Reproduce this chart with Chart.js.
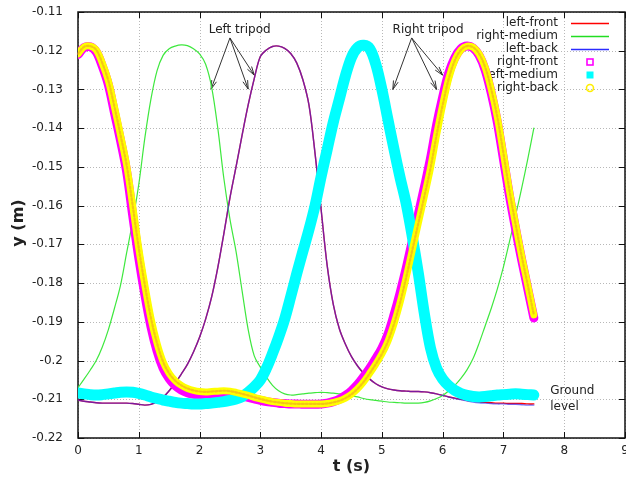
<!DOCTYPE html>
<html>
<head>
<meta charset="utf-8">
<script src="https://cdn.jsdelivr.net/npm/chart.js@4.4.1/dist/chart.umd.min.js"></script>
<style>
html, body { margin: 0; padding: 0; background: #fff; }
#wrap { width: 626px; height: 483px; position: relative; }
</style>
</head>
<body>
<div id="wrap"><canvas id="legChart"></canvas></div>
<script>
// Time samples (s)
const timeS = [0.0, 0.1, 0.2, 0.3, 0.4, 0.5, 0.6, 0.7, 0.8, 0.9,
	1.0, 1.1, 1.2, 1.3, 1.4, 1.5, 1.6, 1.7, 1.8, 1.9,
	2.0, 2.1, 2.2, 2.3, 2.4, 2.5, 2.6, 2.7, 2.8, 2.9,
	3.0, 3.1, 3.2, 3.3, 3.4, 3.5, 3.6, 3.7, 3.8, 3.9,
	4.0, 4.1, 4.2, 4.3, 4.4, 4.5, 4.6, 4.7, 4.8, 4.9,
	5.0, 5.1, 5.2, 5.3, 5.4, 5.5, 5.6, 5.7, 5.8, 5.9,
	6.0, 6.1, 6.2, 6.3, 6.4, 6.5, 6.6, 6.7, 6.8, 6.9,
	7.0, 7.1, 7.2, 7.3, 7.4, 7.5];

// Foot heights y (m)
const leftFront = [-0.2102, -0.2105, -0.2107, -0.2109, -0.2110, -0.2110, -0.2110, -0.2110, -0.2110, -0.2111,
	-0.2113, -0.2115, -0.2113, -0.2106, -0.2095, -0.2078, -0.2058, -0.2035, -0.2010, -0.1978,
	-0.1940, -0.1893, -0.1835, -0.1760, -0.1672, -0.1580, -0.1500, -0.1418, -0.1340, -0.1272,
	-0.1215, -0.1198, -0.1189, -0.1188, -0.1194, -0.1207, -0.1232, -0.1275, -0.1340, -0.1465,
	-0.1610, -0.1755, -0.1855, -0.1918, -0.1958, -0.1990, -0.2014, -0.2033, -0.2048, -0.2060,
	-0.2068, -0.2073, -0.2076, -0.2078, -0.2079, -0.2080, -0.2080, -0.2081, -0.2083, -0.2086,
	-0.2090, -0.2094, -0.2097, -0.2100, -0.2103, -0.2105, -0.2107, -0.2108, -0.2109, -0.2110,
	-0.2110, -0.2111, -0.2111, -0.2111, -0.2112, -0.2112];

const rightMedium = [-0.2070, -0.2048, -0.2025, -0.2000, -0.1965, -0.1920, -0.1865, -0.1805, -0.1722, -0.1640,
	-0.1545, -0.1425, -0.1325, -0.1252, -0.1212, -0.1195, -0.1188, -0.1185, -0.1187, -0.1195,
	-0.1208, -0.1235, -0.1295, -0.1400, -0.1530, -0.1635, -0.1718, -0.1820, -0.1920, -0.1988,
	-0.2017, -0.2043, -0.2064, -0.2078, -0.2086, -0.2089, -0.2088, -0.2086, -0.2084, -0.2083,
	-0.2082, -0.2083, -0.2084, -0.2086, -0.2088, -0.2091, -0.2094, -0.2098, -0.2101, -0.2103,
	-0.2105, -0.2107, -0.2108, -0.2109, -0.2110, -0.2110, -0.2110, -0.2108, -0.2104, -0.2098,
	-0.2090, -0.2078, -0.2064, -0.2046, -0.2024, -0.1995, -0.1955, -0.1910, -0.1865, -0.1815,
	-0.1758, -0.1692, -0.1625, -0.1555, -0.1480, -0.1400];

const leftBack = [-0.2102, -0.2105, -0.2107, -0.2109, -0.2110, -0.2110, -0.2110, -0.2110, -0.2110, -0.2111,
	-0.2113, -0.2115, -0.2113, -0.2106, -0.2095, -0.2078, -0.2058, -0.2035, -0.2010, -0.1978,
	-0.1940, -0.1893, -0.1835, -0.1760, -0.1672, -0.1580, -0.1500, -0.1418, -0.1340, -0.1272,
	-0.1215, -0.1198, -0.1189, -0.1188, -0.1194, -0.1207, -0.1232, -0.1275, -0.1340, -0.1465,
	-0.1610, -0.1755, -0.1855, -0.1918, -0.1958, -0.1990, -0.2014, -0.2033, -0.2048, -0.2060,
	-0.2068, -0.2073, -0.2076, -0.2078, -0.2079, -0.2080, -0.2080, -0.2081, -0.2083, -0.2086,
	-0.2090, -0.2094, -0.2098, -0.2101, -0.2104, -0.2107, -0.2109, -0.2110, -0.2111, -0.2112,
	-0.2112, -0.2113, -0.2113, -0.2114, -0.2115, -0.2115];

const rightFront = [-0.1210, -0.1192, -0.1190, -0.1203, -0.1240, -0.1288, -0.1360, -0.1432, -0.1512, -0.1625,
	-0.1735, -0.1830, -0.1912, -0.1975, -0.2020, -0.2047, -0.2065, -0.2076, -0.2083, -0.2087,
	-0.2089, -0.2089, -0.2088, -0.2087, -0.2086, -0.2086, -0.2088, -0.2091, -0.2095, -0.2099,
	-0.2103, -0.2106, -0.2108, -0.2110, -0.2111, -0.2112, -0.2112, -0.2113, -0.2113, -0.2113,
	-0.2112, -0.2110, -0.2106, -0.2100, -0.2090, -0.2078, -0.2062, -0.2042, -0.2020, -0.1995,
	-0.1968, -0.1932, -0.1882, -0.1825, -0.1762, -0.1692, -0.1622, -0.1552, -0.1478, -0.1392,
	-0.1320, -0.1258, -0.1218, -0.1195, -0.1188, -0.1193, -0.1212, -0.1250, -0.1310, -0.1385,
	-0.1480, -0.1575, -0.1660, -0.1740, -0.1815, -0.1890];

const leftMedium = [-0.2084, -0.2086, -0.2088, -0.2089, -0.2088, -0.2086, -0.2084, -0.2082, -0.2081, -0.2082,
	-0.2085, -0.2089, -0.2094, -0.2098, -0.2102, -0.2105, -0.2108, -0.2110, -0.2111, -0.2112,
	-0.2112, -0.2111, -0.2110, -0.2108, -0.2106, -0.2103, -0.2099, -0.2093, -0.2082, -0.2068,
	-0.2050, -0.2020, -0.1982, -0.1940, -0.1893, -0.1835, -0.1775, -0.1718, -0.1662, -0.1600,
	-0.1525, -0.1455, -0.1385, -0.1325, -0.1265, -0.1217, -0.1192, -0.1186, -0.1195, -0.1235,
	-0.1300, -0.1378, -0.1455, -0.1528, -0.1595, -0.1680, -0.1775, -0.1880, -0.1968, -0.2020,
	-0.2048, -0.2065, -0.2077, -0.2085, -0.2090, -0.2093, -0.2094, -0.2093, -0.2091, -0.2089,
	-0.2088, -0.2087, -0.2086, -0.2087, -0.2088, -0.2089];

const rightBack = [-0.1208, -0.1190, -0.1188, -0.1198, -0.1232, -0.1278, -0.1345, -0.1418, -0.1495, -0.1600,
	-0.1710, -0.1805, -0.1890, -0.1955, -0.2003, -0.2033, -0.2052, -0.2064, -0.2072, -0.2077,
	-0.2080, -0.2081, -0.2080, -0.2079, -0.2078, -0.2079, -0.2082, -0.2086, -0.2090, -0.2095,
	-0.2099, -0.2103, -0.2106, -0.2108, -0.2110, -0.2111, -0.2112, -0.2112, -0.2112, -0.2112,
	-0.2112, -0.2111, -0.2108, -0.2104, -0.2097, -0.2087, -0.2073, -0.2055, -0.2033, -0.2009,
	-0.1983, -0.1950, -0.1905, -0.1850, -0.1785, -0.1715, -0.1645, -0.1575, -0.1503, -0.1418,
	-0.1340, -0.1272, -0.1225, -0.1198, -0.1188, -0.1191, -0.1208, -0.1243, -0.1300, -0.1372,
	-0.1465, -0.1562, -0.1648, -0.1730, -0.1805, -0.1882];

// Tick labels
const xTicks = [0, 1, 2, 3, 4, 5, 6, 7, 8, 9];
const yTicks = [-0.22, -0.21, -0.2, -0.19, -0.18, -0.17, -0.16, -0.15, -0.14, -0.13, -0.12, -0.11];

// Annotations, in data units: label position, then arrow tips
const leftTripod = { text: 'Left tripod', x: 2.66, y: -0.1146, from: [2.5, -0.1167],
	tips: [[2.19, -0.1299], [2.8, -0.1299], [2.9, -0.1263]] };
const rightTripod = { text: 'Right tripod', x: 5.76, y: -0.1146, from: [5.49, -0.1167],
	tips: [[5.18, -0.1300], [5.9, -0.1300], [6.0, -0.1263]] };
const groundLabel = { lines: ['Ground', 'level'], x: 7.77, y: [-0.2079, -0.2120] };

const textColor = '#222';
const fontFamily = '"DejaVu Sans", "Liberation Sans", sans-serif';

function toPoints(values) {
	return timeS.map(function(t, i) { return { x: t, y: values[i] }; });
}

// Legend entries drawn gnuplot style: label right-aligned, sample on its right
function drawKey(chart) {
	const ctx = chart.ctx;
	const textRight = 558;
	const sampleLeft = 571;
	const sampleRight = 609;
	const rowTop = 23;
	const rowStep = 13;
	const entries = chart.data.datasets;

	ctx.save();
	ctx.font = '12px ' + fontFamily;
	ctx.textAlign = 'right';
	ctx.textBaseline = 'middle';
	for(let i = 0; i < entries.length; i++) {
		const ds = entries[i];
		const yy = rowTop + rowStep * i;
		ctx.fillStyle = textColor;
		ctx.fillText(ds.label, textRight, yy);

		const cx = (sampleLeft + sampleRight) / 2;
		if(ds.keyStyle === 'line') {
			ctx.strokeStyle = ds.keyColor;
			ctx.lineWidth = 1.3;
			ctx.beginPath();
			ctx.moveTo(sampleLeft, yy + 0.5);
			ctx.lineTo(sampleRight, yy + 0.5);
			ctx.stroke();
		} else if(ds.keyStyle === 'openSquare') {
			ctx.strokeStyle = ds.keyColor;
			ctx.lineWidth = 1.6;
			ctx.strokeRect(cx - 3, yy - 3, 6, 6);
		} else if(ds.keyStyle === 'filledSquare') {
			ctx.fillStyle = ds.keyColor;
			ctx.fillRect(cx - 3.5, yy - 3.5, 7, 7);
		} else if(ds.keyStyle === 'openCircle') {
			ctx.strokeStyle = ds.keyColor;
			ctx.lineWidth = 1.6;
			ctx.beginPath();
			ctx.arc(cx, yy, 3.5, 0, Math.PI * 2);
			ctx.stroke();
		}
	}
	ctx.restore();
}

function drawArrow(ctx, x0, y0, x1, y1) {
	const ang = Math.atan2(y1 - y0, x1 - x0);
	const head = 9;
	const spread = 0.28;
	ctx.beginPath();
	ctx.moveTo(x0, y0);
	ctx.lineTo(x1, y1);
	ctx.moveTo(x1 - head * Math.cos(ang - spread), y1 - head * Math.sin(ang - spread));
	ctx.lineTo(x1, y1);
	ctx.lineTo(x1 - head * Math.cos(ang + spread), y1 - head * Math.sin(ang + spread));
	ctx.stroke();
}

function drawNotes(chart) {
	const ctx = chart.ctx;
	const xs = chart.scales.x;
	const ys = chart.scales.y;

	ctx.save();
	ctx.font = '12px ' + fontFamily;
	ctx.fillStyle = textColor;
	ctx.strokeStyle = '#333';
	ctx.lineWidth = 1;
	ctx.textAlign = 'center';
	ctx.textBaseline = 'middle';

	[leftTripod, rightTripod].forEach(function(note) {
		ctx.fillText(note.text, xs.getPixelForValue(note.x), ys.getPixelForValue(note.y));
		const fx = xs.getPixelForValue(note.from[0]);
		const fy = ys.getPixelForValue(note.from[1]);
		note.tips.forEach(function(tip) {
			drawArrow(ctx, fx, fy, xs.getPixelForValue(tip[0]), ys.getPixelForValue(tip[1]));
		});
	});

	ctx.textAlign = 'left';
	for(let i = 0; i < groundLabel.lines.length; i++) {
		ctx.fillText(groundLabel.lines[i], xs.getPixelForValue(groundLabel.x), ys.getPixelForValue(groundLabel.y[i]));
	}
	ctx.restore();
}

// Re-stroke the right-back band with a thin orange dash, like the overlapping
// point outlines of the original
function drawBandTexture(chart) {
	const meta = chart.getDatasetMeta(5);
	const el = meta.dataset;
	if(!el || !el.options) {
		return;
	}
	const saved = el.options;
	el.options = Object.assign({}, saved, {
		borderColor: 'rgba(236, 150, 40, 0.55)',
		borderWidth: 2.2,
		borderDash: [2, 2],
	});
	chart.ctx.save();
	el.draw(chart.ctx, chart.chartArea);
	chart.ctx.restore();
	el.options = saved;
}

const gnuplotFrame = {
	id: 'gnuplotFrame',
	beforeDatasetsDraw(chart) {
		const ctx = chart.ctx;
		const a = chart.chartArea;
		const xs = chart.scales.x;
		const ys = chart.scales.y;

		// dotted grid
		ctx.save();
		ctx.strokeStyle = '#b8b8b8';
		ctx.lineWidth = 1;
		ctx.setLineDash([1, 2]);
		xTicks.forEach(function(v) {
			const px = Math.round(xs.getPixelForValue(v)) + 0.5;
			ctx.beginPath();
			ctx.moveTo(px, a.top);
			ctx.lineTo(px, a.bottom);
			ctx.stroke();
		});
		yTicks.forEach(function(v) {
			const py = Math.round(ys.getPixelForValue(v)) + 0.5;
			ctx.beginPath();
			ctx.moveTo(a.left, py);
			ctx.lineTo(a.right, py);
			ctx.stroke();
		});
		ctx.restore();

		drawKey(chart);
		drawNotes(chart);

		// border with inward tick marks on all four sides
		ctx.save();
		ctx.strokeStyle = '#111';
		ctx.lineWidth = 1.5;
		ctx.strokeRect(a.left, a.top, a.right - a.left, a.bottom - a.top);
		ctx.lineWidth = 1;
		const tl = 6;
		xTicks.forEach(function(v) {
			const px = Math.round(xs.getPixelForValue(v)) + 0.5;
			ctx.beginPath();
			ctx.moveTo(px, a.bottom);
			ctx.lineTo(px, a.bottom - tl);
			ctx.moveTo(px, a.top);
			ctx.lineTo(px, a.top + tl);
			ctx.stroke();
		});
		yTicks.forEach(function(v) {
			const py = Math.round(ys.getPixelForValue(v)) + 0.5;
			ctx.beginPath();
			ctx.moveTo(a.left, py);
			ctx.lineTo(a.left + tl, py);
			ctx.moveTo(a.right, py);
			ctx.lineTo(a.right - tl, py);
			ctx.stroke();
		});
		ctx.restore();
	},
	afterDatasetsDraw(chart) {
		drawBandTexture(chart);
	},
	afterDraw(chart) {
		const ctx = chart.ctx;
		const a = chart.chartArea;
		ctx.save();
		ctx.fillStyle = textColor;
		ctx.font = 'bold 16px ' + fontFamily;
		ctx.textAlign = 'center';
		ctx.textBaseline = 'middle';
		ctx.fillText('t (s)', (a.left + a.right) / 2, 467);
		ctx.translate(19, (a.top + a.bottom) / 2 - 2);
		ctx.rotate(-Math.PI / 2);
		ctx.fillText('y (m)', 0, 0);
		ctx.restore();
	}
};

Chart.defaults.font.family = fontFamily;
Chart.defaults.font.size = 12;
Chart.defaults.color = textColor;

const lineBase = {
	pointRadius: 0,
	pointHoverRadius: 0,
	fill: false,
	tension: 0.35,
	borderCapStyle: 'round',
	borderJoinStyle: 'round',
};

const config = {
	type: 'line',
	data: {
		datasets: [
			Object.assign({}, lineBase, {
				label: 'left-front', data: toPoints(leftFront),
				borderColor: '#ff0000', borderWidth: 1.4, order: 6,
				keyStyle: 'line', keyColor: '#ff0000',
			}),
			Object.assign({}, lineBase, {
				label: 'right-medium', data: toPoints(rightMedium),
				borderColor: '#3ee83e', borderWidth: 1.2, order: 5,
				keyStyle: 'line', keyColor: '#22dd22',
			}),
			Object.assign({}, lineBase, {
				label: 'left-back', data: toPoints(leftBack),
				borderColor: 'rgba(40, 40, 255, 0.62)', borderWidth: 1.4, order: 4,
				keyStyle: 'line', keyColor: '#2b2bff',
			}),
			Object.assign({}, lineBase, {
				label: 'right-front', data: toPoints(rightFront),
				borderColor: '#ff00ff', borderWidth: 9, order: 3,
				keyStyle: 'openSquare', keyColor: '#ff00ff',
			}),
			Object.assign({}, lineBase, {
				label: 'left-medium', data: toPoints(leftMedium),
				borderColor: '#00ffff', borderWidth: 11, order: 2,
				keyStyle: 'filledSquare', keyColor: '#00ffff',
			}),
			Object.assign({}, lineBase, {
				label: 'right-back', data: toPoints(rightBack),
				borderColor: '#ffff00', borderWidth: 7, order: 1,
				keyStyle: 'openCircle', keyColor: '#ffee00',
			}),
		],
	},
	options: {
		responsive: true,
		maintainAspectRatio: false,
		animation: false,
		events: [],
		layout: {
			padding: { top: 12, right: 1, left: 0, bottom: 0 },
		},
		plugins: {
			legend: { display: false },
			tooltip: { enabled: false },
		},
		scales: {
			x: {
				type: 'linear',
				min: 0,
				max: 9,
				grid: { display: false, drawTicks: false },
				border: { display: false },
				afterBuildTicks: function(scale) {
					scale.ticks = xTicks.map(function(v) { return { value: v }; });
				},
				afterFit: function(scale) {
					scale.height = 45;
					scale.paddingLeft = 0;
					scale.paddingRight = 0;
				},
				ticks: {
					padding: 6,
					autoSkip: false,
					maxRotation: 0,
					color: textColor,
					callback: function(v) { return String(v); },
				},
			},
			y: {
				type: 'linear',
				min: -0.22,
				max: -0.11,
				grid: { display: false, drawTicks: false },
				border: { display: false },
				afterBuildTicks: function(scale) {
					scale.ticks = yTicks.map(function(v) { return { value: v }; });
				},
				afterFit: function(scale) {
					scale.width = 78;
					scale.paddingTop = 0;
					scale.paddingBottom = 0;
				},
				ticks: {
					padding: 15,
					autoSkip: false,
					color: textColor,
					callback: function(v) { return String(Number(v.toFixed(2))); },
				},
			},
		},
	},
	plugins: [gnuplotFrame],
};

const legChart = new Chart(document.getElementById('legChart').getContext('2d'), config);
</script>
</body>
</html>
